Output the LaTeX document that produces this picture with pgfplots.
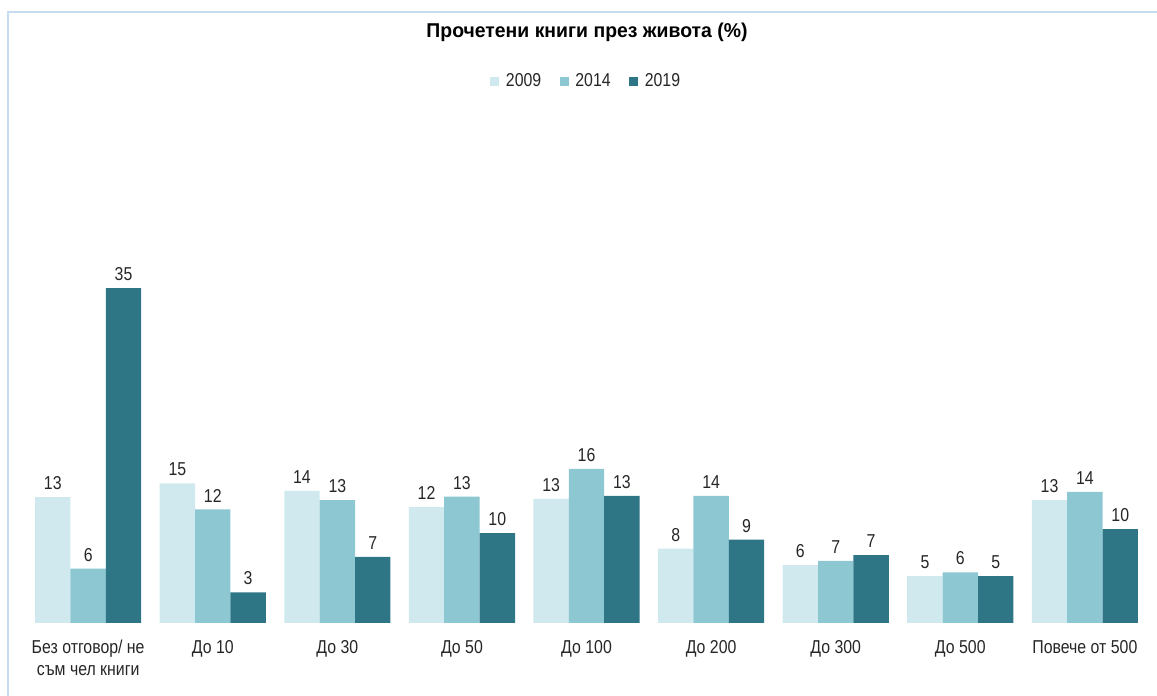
\documentclass[border=0pt]{standalone}
\usepackage{fontspec}
\setmainfont{Liberation Sans}[FakeStretch=0.85]
\newfontfamily\titlefont{Liberation Sans}[FakeStretch=0.97]
\usepackage{pgfplots}
\pgfplotsset{compat=1.18}

\definecolor{c2009}{RGB}{208,233,238}
\definecolor{c2014}{RGB}{140,199,210}
\definecolor{c2019}{RGB}{46,117,134}
\definecolor{framec}{RGB}{200,220,240}

\begin{document}
\begin{tikzpicture}
\useasboundingbox (0,0) rectangle (867.75pt,522pt);
\draw[framec, line width=1.5pt] (6.1pt,0pt) -- (6.1pt,513.2pt) -- (870pt,513.2pt);
\begin{axis}[
    at={(19.4pt,54.75pt)}, anchor=south west,
    scale only axis,
    width=841pt, height=258.4pt,
    ybar=0pt,
    bar width=0.284,
    xmin=-0.5, xmax=8.5,
    ymin=0, ymax=36,
    axis line style={draw=none},
    tick style={draw=none},
    ytick=\empty,
    xtick={0,...,8},
    xticklabels={{Без отговор/ не\\съм чел книги}, До 10, До 30, До 50, До 100, До 200, До 300, До 500, Повече от 500},
    xticklabel style={align=center, font=\fontsize{14}{16.5}\selectfont, text=black!85, yshift=-5pt},
    clip=false,
    point meta=explicit symbolic,
    nodes near coords,
    every node near coord/.append style={font=\fontsize{14}{16}\selectfont, text=black!85, yshift=2pt},
    title={\textbf{Прочетени книги през живота (\%)}},
    title style={at={(0.5004,1.692)}, anchor=center, yshift=0pt,
        font=\titlefont\fontsize{15}{17}\selectfont},
    legend columns=-1,
    legend style={at={(0.5,1.573)}, anchor=center, draw=none,
        font=\fontsize{14}{16}\selectfont, text=black!85,
        /tikz/every odd column/.append style={column sep=3pt},
        /tikz/every even column/.append style={column sep=11.8pt}},
    legend image code/.code={\fill[#1,draw=none] (0pt,-3.4pt) rectangle (6.8pt,3.4pt);},
]
\addplot[fill=c2009, draw=none] coordinates {
    (0,13.16)[13] (1,14.59)[15] (2,13.8)[14] (3,12.1)[12] (4,12.96)[13]
    (5,7.76)[8] (6,6.06)[6] (7,4.9)[5] (8,12.85)[13]
};
\addplot[fill=c2014, draw=none] coordinates {
    (0,5.67)[6] (1,11.87)[12] (2,12.85)[13] (3,13.2)[13] (4,16.1)[16]
    (5,13.27)[14] (6,6.5)[7] (7,5.3)[6] (8,13.7)[14]
};
\addplot[fill=c2019, draw=none] coordinates {
    (0,35)[35] (1,3.2)[3] (2,6.9)[7] (3,9.4)[10] (4,13.27)[13]
    (5,8.7)[9] (6,7.1)[7] (7,4.9)[5] (8,9.8)[10]
};
\legend{2009, 2014, 2019}
\end{axis}
\end{tikzpicture}
\end{document}
